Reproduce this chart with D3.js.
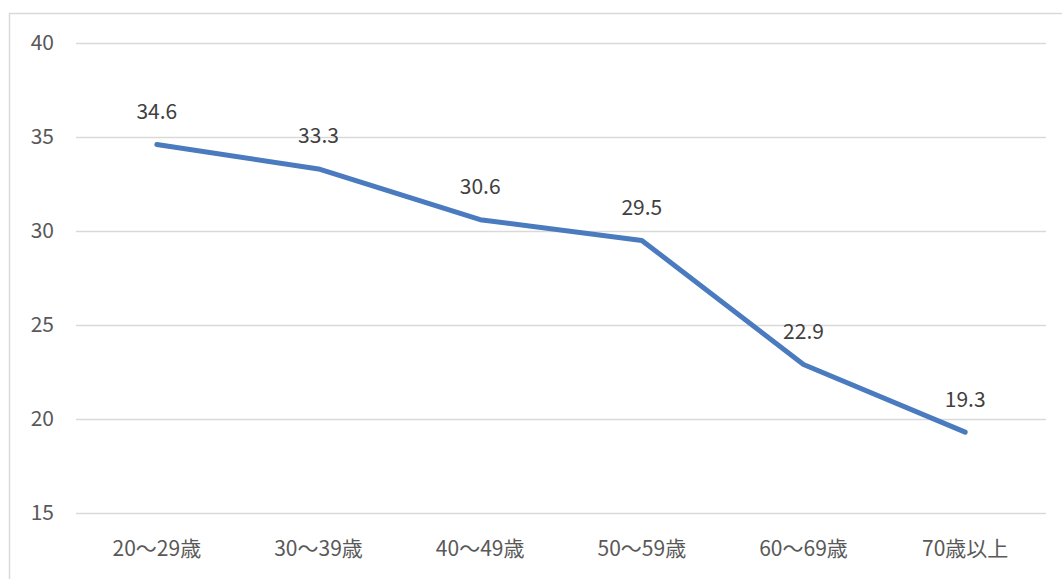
<!DOCTYPE html>
<html><head><meta charset="utf-8">
<script src="https://cdn.jsdelivr.net/npm/d3@7"></script>
<style>body{margin:0;background:#fff;}svg{display:block;}</style>
</head><body>
<svg id="c" width="1062" height="579"></svg>
<script>
const categories = ["20～29歳","30～39歳","40～49歳","50～59歳","60～69歳","70歳以上"];
const values = [34.6, 33.3, 30.6, 29.5, 22.9, 19.3];
const yTicks = [15, 20, 25, 30, 35, 40];

(function(){
const svg = d3.select("#c");
const font = "'Noto Sans CJK JP','Noto Sans',sans-serif";
svg.append("rect").attr("x",9.5).attr("y",13.5).attr("width",1062).attr("height",600)
  .attr("fill","#fff").attr("stroke","#d9d9d9").attr("stroke-width",1.5);

const mLeft = 76, mRight = 1046, mTop = 43, mBottom = 513;
const x = d3.scaleBand().domain(categories).range([mLeft, mRight]);
const y = d3.scaleLinear().domain([15, 40]).range([mBottom, mTop]);

svg.append("g").selectAll("line").data(yTicks).join("line")
  .attr("x1", mLeft).attr("x2", mRight)
  .attr("y1", d => Math.round(y(d)) + 0.5).attr("y2", d => Math.round(y(d)) + 0.5)
  .attr("stroke", "#d9d9d9").attr("stroke-width", 1.3);

svg.append("g").selectAll("text").data(yTicks).join("text")
  .attr("x", 54).attr("y", d => y(d)).attr("dy", "0.35em")
  .attr("text-anchor", "end").attr("fill", "#595959")
  .style("font-family", font).style("font-size", "21px").text(d => d);

svg.append("g").selectAll("text").data(categories).join("text")
  .attr("x", d => x(d) + x.bandwidth()/2).attr("y", 549).attr("dy", "0.35em")
  .attr("text-anchor", "middle").attr("fill", "#595959")
  .style("font-family", font).style("font-size", "21px").text(d => d);

const line = d3.line().x((d,i) => x(categories[i]) + x.bandwidth()/2).y(d => y(d));
svg.append("path").datum(values).attr("d", line)
  .attr("fill", "none").attr("stroke", "#4a7bbf").attr("stroke-width", 5)
  .attr("stroke-linecap", "round").attr("stroke-linejoin", "round");

svg.append("g").selectAll("text").data(values).join("text")
  .attr("x", (d,i) => x(categories[i]) + x.bandwidth()/2)
  .attr("y", d => y(d) - 33).attr("dy", "0.35em")
  .attr("text-anchor", "middle").attr("fill", "#404040")
  .style("font-family", font).style("font-size", "21px").text(d => d.toFixed(1));
})();
</script>
</body></html>
